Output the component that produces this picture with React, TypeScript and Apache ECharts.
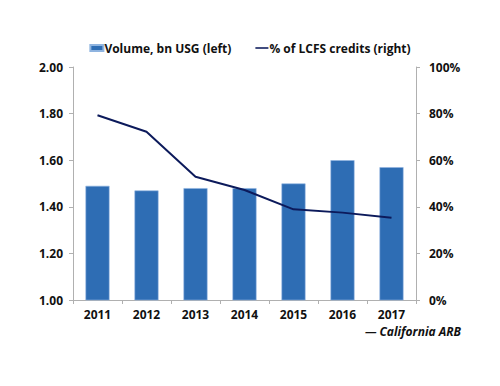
import React, { useEffect, useRef } from "react";
import * as echarts from "echarts";

const years = ["2011", "2012", "2013", "2014", "2015", "2016", "2017"];
const volume = [1.49, 1.47, 1.48, 1.48, 1.5, 1.6, 1.57];
const lcfsShare = [79.3, 72.2, 52.9, 47.2, 38.9, 37.5, 35.3];
const volumeName = "Volume, bn USG (left)";
const shareName = "% of LCFS credits (right)";
const sourceText = "— California ARB";

const FONT = "'Open Sans', sans-serif";

export default function App() {
  const ref = useRef<HTMLDivElement>(null);
  useEffect(() => {
    if (!ref.current) return;
    const chart = echarts.init(ref.current, undefined, { renderer: "svg" });
    const axisLine = { show: true, lineStyle: { color: "#b0b0b0", width: 1 } };
    const labelStyle = { color: "#111", fontFamily: FONT, fontSize: 12, fontWeight: "bold" as const };
    chart.setOption({
      animation: false,
      backgroundColor: "#fff",
      grid: { left: 73, right: 84, top: 67, bottom: 86, containLabel: false },
      legend: {
        top: 37,
        left: "center",
        itemWidth: 13,
        itemHeight: 6,
        itemGap: 24,
        textStyle: { ...labelStyle, padding: [0, 0, 0, -4] },
        data: [
          { name: volumeName, icon: "rect" },
          { name: shareName, icon: "path://M0,0 L10,0 L10,1.2 L0,1.2 Z" },
        ],
      },
      xAxis: {
        type: "category",
        data: years,
        axisLine,
        axisTick: { show: true, alignWithLabel: false, length: 4, lineStyle: { color: "#b0b0b0" } },
        axisLabel: { ...labelStyle, margin: 8 },
        splitLine: { show: false },
      },
      yAxis: [
        {
          type: "value",
          min: 1,
          max: 2,
          interval: 0.2,
          axisLine,
          axisTick: { show: true, length: 4, lineStyle: { color: "#b0b0b0" } },
          axisLabel: { ...labelStyle, margin: 10, formatter: (v: number) => v.toFixed(2) },
          splitLine: { show: false },
        },
        {
          type: "value",
          min: 0,
          max: 100,
          interval: 20,
          position: "right",
          axisLine,
          axisTick: { show: true, length: 4, lineStyle: { color: "#b0b0b0" } },
          axisLabel: { ...labelStyle, margin: 13, formatter: (v: number) => v + "%" },
          splitLine: { show: false },
        },
      ],
      series: [
        {
          name: volumeName,
          type: "bar",
          data: volume,
          yAxisIndex: 0,
          barWidth: "49%",
          itemStyle: { color: "#2E6DB4", borderColor: "#8fb4e0", borderWidth: 0.6 },
        },
        {
          name: shareName,
          type: "line",
          data: lcfsShare,
          yAxisIndex: 1,
          symbol: "none",
          lineStyle: { color: "#0C1A5B", width: 2 },
          itemStyle: { color: "#0C1A5B" },
        },
      ],
      graphic: [
        {
          type: "text",
          right: 39,
          top: 325,
          style: {
            text: sourceText,
            fill: "#111",
            font: `italic bold 12px ${FONT}`,
          },
        },
      ],
    });
    return () => chart.dispose();
  }, []);
  return (
    <div
      ref={ref}
      style={{ position: "absolute", left: 0, top: 0, width: 500, height: 386 }}
    />
  );
}
